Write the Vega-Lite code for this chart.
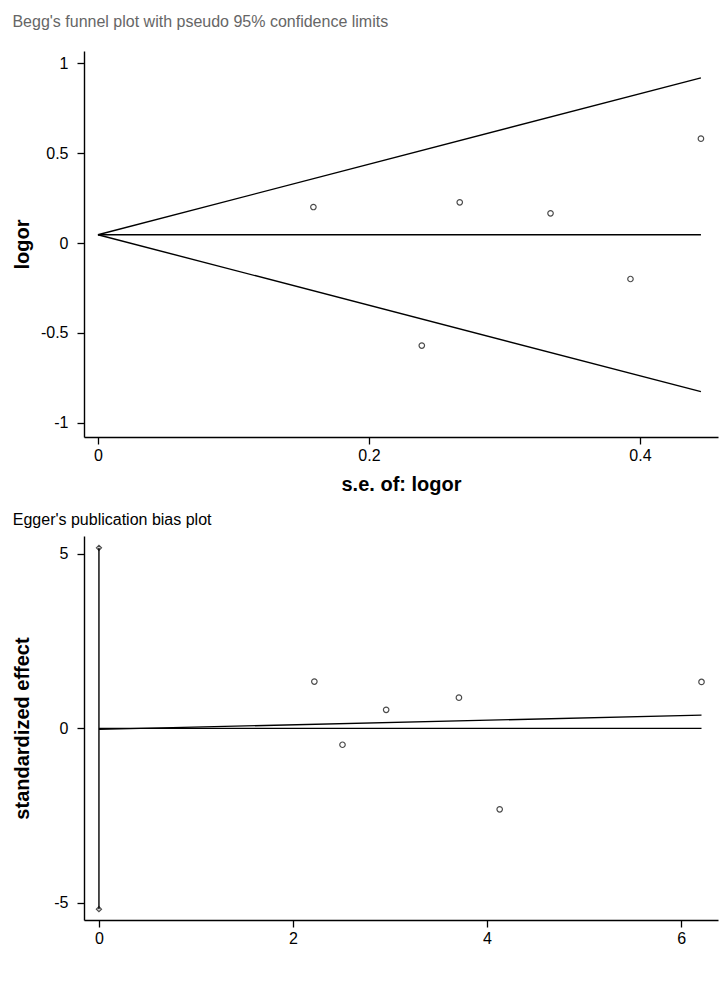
{
  "$schema": "https://vega.github.io/schema/vega-lite/v6.json",
  "padding": {"left": 12, "top": 14, "right": 5, "bottom": 5},
  "background": "white",
  "config": {
    "view": {"stroke": null},
    "font": "Liberation Sans",
    "axis": {
      "grid": false,
      "domainColor": "#000",
      "domainWidth": 1.4,
      "tickColor": "#000",
      "tickWidth": 1.3,
      "tickSize": 7,
      "labelFont": "Liberation Sans",
      "labelFontSize": 16,
      "labelColor": "#000",
      "titleFont": "Liberation Sans",
      "titleFontSize": 20,
      "titleFontWeight": "bold",
      "titleColor": "#000"
    },
    "axisX": {"labelPadding": 3},
    "axisY": {"labelPadding": 9},
    "title": {"font": "Liberation Sans", "fontSize": 16, "fontWeight": "normal", "color": "#000", "anchor": "start"}
  },
  "datasets": {
    "funnel": [
      {"line": "upper", "se": 0, "logor": 0.046},
      {"line": "upper", "se": 0.445, "logor": 0.918},
      {"line": "lower", "se": 0, "logor": 0.046},
      {"line": "lower", "se": 0.445, "logor": -0.826},
      {"line": "center", "se": 0, "logor": 0.046},
      {"line": "center", "se": 0.445, "logor": 0.046}
    ],
    "studies": [
      {"se": 0.159, "logor": 0.20},
      {"se": 0.239, "logor": -0.57},
      {"se": 0.267, "logor": 0.226},
      {"se": 0.334, "logor": 0.165},
      {"se": 0.393, "logor": -0.20},
      {"se": 0.445, "logor": 0.58}
    ],
    "eggerLines": [
      {"line": "ci", "precision": 0, "effect": -5.18},
      {"line": "ci", "precision": 0, "effect": 5.17},
      {"line": "zero", "precision": 0, "effect": 0},
      {"line": "zero", "precision": 6.21, "effect": 0},
      {"line": "fit", "precision": 0, "effect": -0.03},
      {"line": "fit", "precision": 6.21, "effect": 0.38}
    ],
    "ciEnds": [
      {"precision": 0, "effect": -5.18},
      {"precision": 0, "effect": 5.17}
    ],
    "egger": [
      {"precision": 2.22, "effect": 1.34},
      {"precision": 2.51, "effect": -0.47},
      {"precision": 2.96, "effect": 0.53},
      {"precision": 3.71, "effect": 0.88},
      {"precision": 4.13, "effect": -2.32},
      {"precision": 6.21, "effect": 1.33}
    ]
  },
  "vconcat": [
    {
      "width": 634,
      "height": 386,
      "title": {"text": "Begg's funnel plot with pseudo 95% confidence limits", "offset": 5, "baseline": "bottom", "color": "#666"},
      "layer": [
        {
          "data": {"name": "funnel"},
          "mark": {"type": "line", "color": "#000", "strokeWidth": 1.4},
          "encoding": {
            "x": {"field": "se", "type": "quantitative", "scale": {"domain": [-0.0103, 0.4576], "nice": false, "zero": false},
                  "axis": {"values": [0, 0.2, 0.4], "title": "s.e. of: logor", "labelExpr": "datum.value + ''", "titlePadding": 11}},
            "y": {"field": "logor", "type": "quantitative", "scale": {"domain": [-1.078, 1.067], "nice": false, "zero": false},
                  "axis": {"values": [-1, -0.5, 0, 0.5, 1], "title": "logor", "labelExpr": "datum.value + ''", "titlePadding": 8}},
            "detail": {"field": "line", "type": "nominal"}
          }
        },
        {
          "data": {"name": "studies"},
          "mark": {"type": "point", "shape": "circle", "filled": false, "color": "#000", "strokeWidth": 1.2, "size": 30},
          "encoding": {
            "x": {"field": "se", "type": "quantitative"},
            "y": {"field": "logor", "type": "quantitative"}
          }
        }
      ]
    },
    {
      "width": 634,
      "height": 384,
      "title": {"text": "Egger's publication bias plot", "offset": -8, "baseline": "bottom"},
      "layer": [
        {
          "data": {"name": "eggerLines"},
          "mark": {"type": "line", "color": "#000", "strokeWidth": 1.4},
          "encoding": {
            "x": {"field": "precision", "type": "quantitative", "scale": {"domain": [-0.154, 6.38], "nice": false, "zero": false},
                  "axis": {"values": [0, 2, 4, 6], "title": null, "labelExpr": "datum.value + ''"}},
            "y": {"field": "effect", "type": "quantitative", "scale": {"domain": [-5.49, 5.51], "nice": false, "zero": false},
                  "axis": {"values": [-5, 0, 5], "title": "standardized effect", "labelExpr": "datum.value + ''", "titlePadding": 21}},
            "detail": {"field": "line", "type": "nominal"}
          }
        },
        {
          "data": {"name": "ciEnds"},
          "mark": {"type": "point", "shape": "diamond", "filled": false, "color": "#000", "strokeWidth": 1.2, "size": 26},
          "encoding": {
            "x": {"field": "precision", "type": "quantitative"},
            "y": {"field": "effect", "type": "quantitative"}
          }
        },
        {
          "data": {"name": "egger"},
          "mark": {"type": "point", "shape": "circle", "filled": false, "color": "#000", "strokeWidth": 1.2, "size": 30},
          "encoding": {
            "x": {"field": "precision", "type": "quantitative"},
            "y": {"field": "effect", "type": "quantitative"}
          }
        }
      ]
    }
  ],
  "spacing": 99,
  "bounds": "flush"
}
